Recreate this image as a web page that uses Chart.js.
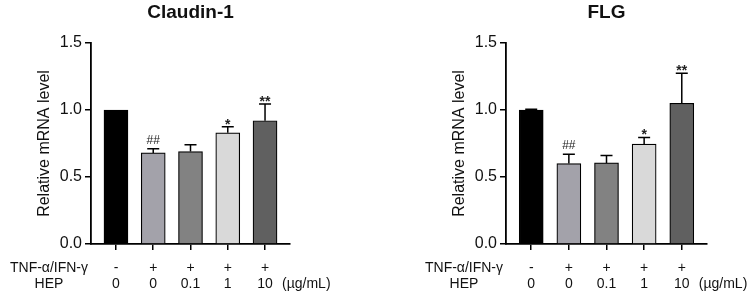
<!DOCTYPE html>
<html>
<head>
<meta charset="utf-8">
<script src="https://cdn.jsdelivr.net/npm/chart.js@4.4.1/dist/chart.umd.min.js"></script>
<style>
  html, body { margin: 0; padding: 0; background: #fff; }
  .panel { position: absolute; top: 0; width: 377px; height: 300px; }
</style>
</head>
<body>
<div class="panel" style="left:0"><canvas id="claudinChart" width="377" height="300"></canvas></div>
<div class="panel" style="left:377px"><canvas id="flgChart" width="377" height="300"></canvas></div>
<script>
// groups along x
const tnfLabels = ['-', '+', '+', '+', '+'];
const hepLabels = ['0', '0', '0.1', '1', '10'];
const yTicks = [0, 0.5, 1.0, 1.5];

// Claudin-1
const claudinMean = [1.00, 0.68, 0.69, 0.83, 0.92];
const claudinSem = [0.00, 0.03, 0.05, 0.045, 0.125];
const claudinSig = ['', '##', '', '*', '**'];

// FLG
const flgMean = [1.00, 0.60, 0.605, 0.745, 1.05];
const flgSem = [0.005, 0.07, 0.055, 0.05, 0.225];
const flgSig = ['', '##', '', '*', '**'];

const barColors = ['#000000', '#a3a2aa', '#828282', '#d9d9d9', '#606060'];
const FONT = '"Liberation Sans", Arial, sans-serif';

// error bars (upper only) + significance marks
const errorBarPlugin = {
    id: 'errorBars',
    afterDatasetsDraw(chart, args, opts) {
        const ctx = chart.ctx;
        const xs = chart.scales.x;
        const ys = chart.scales.y;
        ctx.save();
        ctx.strokeStyle = '#000';
        ctx.lineWidth = 1.5;
        opts.mean.forEach(function(m, i) {
            const x = xs.getPixelForValue(i);
            const yBar = ys.getPixelForValue(m);
            const yTop = ys.getPixelForValue(m + opts.sem[i]);
            if (opts.sem[i] > 0) {
                ctx.beginPath();
                ctx.moveTo(x, yBar);
                ctx.lineTo(x, yTop);
                ctx.moveTo(x - 6, yTop);
                ctx.lineTo(x + 6, yTop);
                ctx.stroke();
            }
            const s = opts.sig[i];
            if (s) {
                ctx.fillStyle = '#222';
                ctx.textAlign = 'center';
                ctx.textBaseline = 'alphabetic';
                if (s.charAt(0) === '#') {
                    ctx.font = '12px ' + FONT;
                    ctx.fillText(s, x, yTop - 5);
                } else {
                    ctx.font = 'bold 14px ' + FONT;
                    ctx.fillText(s, x, yTop + 2);
                }
            }
        });
        ctx.restore();
    }
};

// title, y title, row headings, unit
const textPlugin = {
    id: 'panelText',
    afterDraw(chart, args, opts) {
        const ctx = chart.ctx;
        const a = chart.chartArea;
        const xs = chart.scales.x;
        ctx.save();
        ctx.fillStyle = '#111';
        ctx.textAlign = 'center';
        ctx.textBaseline = 'middle';
        ctx.font = 'bold 19px ' + FONT;
        ctx.fillText(opts.title, (a.left + a.right) / 2, 13);

        ctx.font = '16px ' + FONT;
        ctx.save();
        ctx.translate(a.left - 46, (a.top + a.bottom) / 2);
        ctx.rotate(-Math.PI / 2);
        ctx.fillText('Relative mRNA level', 0, 0);
        ctx.restore();

        ctx.font = '14px ' + FONT;
        ctx.fillText('TNF-\u03b1/IFN-\u03b3', a.left - 42, a.bottom + 24);
        ctx.fillText('HEP', a.left - 42, a.bottom + 40);
        ctx.textAlign = 'left';
        ctx.fillText('(\u00b5g/mL)', xs.getPixelForValue(4) + 17, a.bottom + 40);
        ctx.restore();
    }
};

function makeChart(id, title, mean, sem, sig, padLeft, padRight) {
    const ctx = document.getElementById(id).getContext('2d');
    return new Chart(ctx, {
        type: 'bar',
        data: {
            datasets: [{
                data: mean.map(function(v, i) { return { x: i, y: v }; }),
                backgroundColor: barColors,
                borderColor: '#000',
                borderWidth: 1.2,
                borderSkipped: 'bottom',
                barThickness: 24
            }]
        },
        options: {
            responsive: false,
            animation: false,
            layout: { padding: { left: padLeft, right: padRight, top: 43, bottom: 6 } },
            plugins: {
                legend: { display: false },
                tooltip: { enabled: false },
                errorBars: { mean: mean, sem: sem, sig: sig },
                panelText: { title: title }
            },
            scales: {
                x: {
                    type: 'linear',
                    offset: false,
                    min: -0.67,
                    max: 4.67,
                    afterBuildTicks: function(scale) {
                        scale.ticks = tnfLabels.map(function(l, i) { return { value: i }; });
                    },
                    afterFit: function(scale) { scale.height = 50; },
                    border: { display: true, color: '#000', width: 1.8 },
                    grid: { display: true, offset: false, drawOnChartArea: false, drawTicks: true, tickLength: 6, tickColor: '#000', lineWidth: 1.5 },
                    ticks: {
                        padding: 10,
                        color: '#111',
                        font: { family: FONT, size: 14, lineHeight: 16 / 14 },
                        maxRotation: 0,
                        autoSkip: false,
                        callback: function(v) { return [tnfLabels[v], hepLabels[v]]; }
                    }
                },
                y: {
                    min: 0,
                    max: 1.5,
                    afterBuildTicks: function(scale) {
                        scale.ticks = yTicks.map(function(v) { return { value: v }; });
                    },
                    afterFit: function(scale) { scale.width = 60; },
                    border: { display: true, color: '#000', width: 1.8 },
                    grid: { display: true, drawOnChartArea: false, drawTicks: true, tickLength: 6, tickColor: '#000', lineWidth: 1.5 },
                    ticks: {
                        padding: 3,
                        color: '#111',
                        font: { family: FONT, size: 16 },
                        callback: function(v) { return v.toFixed(1); }
                    }
                }
            }
        },
        plugins: [errorBarPlugin, textPlugin]
    });
}

makeChart('claudinChart', 'Claudin-1', claudinMean, claudinSem, claudinSig, 31, 87);
makeChart('flgChart', 'FLG', flgMean, flgSem, flgSig, 69, 47);
</script>
</body>
</html>
